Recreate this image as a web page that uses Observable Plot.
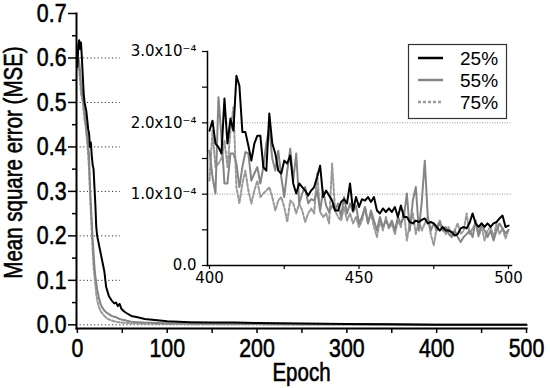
<!DOCTYPE html>
<html><head><meta charset="utf-8">
<script src="https://cdn.jsdelivr.net/npm/d3@7"></script>
<script src="https://cdn.jsdelivr.net/npm/@observablehq/plot@0.6"></script>
<style>
body{margin:0;background:#fff;}
#wrap{position:relative;width:550px;height:388px;overflow:hidden;background:#fff;}
#inset{position:absolute;left:120px;top:40px;}
svg{display:block;}
</style></head><body><div id="wrap"><div id="main"></div><div id="inset"></div></div>
<script>
// ---- series ----
const seriesNames = ["25%", "55%", "75%"];
const seriesColors = ["#000000", "#858585", "#999999"];
const seriesDash = [null, null, "3,2"];

// ---- main plot (epochs 0-399) ----
const mainEpochs = [0,1,2,3,4,5,6,7,8,9,10,11,12,13,14,15,16,17,18,19,20,21,22,24,26,28,30,32,35,38,41,43,45,47,49,52,55,60,67,75,89,100,125,150,175,200,250,300,350,399];
const main25 = [0.58,0.63,0.64,0.62,0.635,0.60,0.56,0.52,0.50,0.49,0.48,0.46,0.44,0.43,0.40,0.41,0.38,0.36,0.35,0.31,0.27,0.22,0.20,0.18,0.16,0.14,0.12,0.085,0.065,0.055,0.048,0.05,0.042,0.047,0.036,0.03,0.026,0.02,0.017,0.013,0.01,0.008,0.006,0.005,0.005,0.004,0.003,0.002,0.0012,0.0002];
const main55 = [0.61,0.60,0.59,0.57,0.54,0.53,0.51,0.50,0.48,0.46,0.44,0.42,0.40,0.38,0.31,0.27,0.235,0.19,0.16,0.13,0.11,0.095,0.08,0.06,0.045,0.038,0.032,0.028,0.024,0.02,0.018,0.017,0.015,0.013,0.012,0.011,0.009,0.007,0.006,0.005,0.004,0.0035,0.003,0.0025,0.002,0.002,0.0015,0.001,0.0007,0.00016];
const main75 = [0.60,0.58,0.57,0.55,0.52,0.51,0.50,0.48,0.46,0.45,0.43,0.41,0.38,0.35,0.30,0.25,0.21,0.17,0.13,0.11,0.09,0.07,0.055,0.04,0.03,0.025,0.02,0.016,0.012,0.01,0.008,0.007,0.006,0.0055,0.005,0.0045,0.004,0.0035,0.003,0.0025,0.002,0.002,0.0015,0.0012,0.001,0.001,0.0008,0.0006,0.0004,0.00012];

// ---- inset (epochs 400-500), values in units of 1e-4 ----
const insetEpochs = d3.range(400, 501);
const inset25 = [1.89,2.03,1.71,1.66,1.57,2.34,1.71,2.06,1.89,2.66, 2.52,1.87,1.87,1.68,1.47,1.71,1.82,1.82,1.38,1.33, 2.13,1.71,1.57,1.33,1.29,1.47,1.43,1.54,1.15,1.01, 1.15,1.10,1.05,0.98,1.05,1.10,1.24,1.40,0.96,1.05, 0.98,0.91,0.77,0.77,0.89,0.93,0.87,1.15,0.77,0.96, 0.82, 0.93,0.91,0.96,0.89,0.96,0.77,0.73,0.80,0.75,0.80, 0.75,0.82,0.68,0.84,0.68,0.68,0.61,0.59,0.63,0.61, 0.64,0.66,0.59,0.61,0.59,0.54,0.49,0.54,0.49,0.49, 0.47,0.42,0.44,0.52,0.54,0.52,0.60,0.73,0.59,0.54, 0.59,0.54,0.59,0.54,0.59,0.61,0.66,0.70,0.54,0.56];
const inset55 = [1.61,1.24,1.01,2.36,1.80,1.15,1.15,1.57,1.57,1.43, 1.10,1.38,1.59,1.57,1.19,1.29,1.38,1.15,1.38,1.71, 1.93,1.50,1.33,1.61,1.24,0.96,1.33,1.64,1.19,1.57, 0.87,1.01,1.10,0.87,0.93,0.91,1.05,0.77,1.05,0.84, 0.75,0.84,0.77,0.87,0.68,0.96,0.73,0.87,0.75,0.84, 0.59, 0.68,0.82,0.59,0.77,0.63,0.49,0.68,0.54,0.63,0.54, 0.63,0.49,0.68,0.59,0.68,1.01,0.49,0.91,1.10,0.49, 0.90,1.47,0.68,0.49,0.59,0.49,0.61,0.49,0.54,0.44, 0.40,0.49,0.40,0.33,0.40,0.44,0.49,0.40,0.63,0.44, 0.59,0.49,0.40,0.49,0.35,0.49,0.59,0.52,0.45,0.50];
const inset75 = [1.19,1.89,1.38,1.43,1.50,1.75,1.38,1.89,2.22,1.10, 0.87,1.15,1.33,1.05,0.87,1.05,1.19,0.96,1.01,1.05, 1.10,0.96,0.77,0.91,0.96,0.82,0.61,0.91,0.87,0.73, 0.87,0.77,0.61,0.73,0.80,0.73,1.29,0.75,0.68,0.73, 0.59,1.43,0.77,0.68,0.63,0.82,0.63,0.73,0.59,0.68, 0.54, 0.63,0.82,0.59,0.73,0.54,0.40,0.63,0.49,0.68,0.52, 0.59,0.44,0.63,0.54,0.77,0.35,0.59,0.73,0.44,0.63, 0.49,0.59,0.68,0.44,0.28,0.54,0.63,0.52,0.44,0.54, 0.40,0.49,0.59,0.44,0.49,0.73,0.44,0.52,0.59,0.40, 0.54,0.35,0.49,0.54,0.40,0.59,0.44,0.52,0.38,0.50];

// ---- ticks ----
const mainYTicks = [0,0.1,0.2,0.3,0.4,0.5,0.6,0.7];
const mainYMinor = [0.05,0.15,0.25,0.35,0.45,0.55,0.65];
const mainXTicks = [0,100,200,300,400,500];
const mainXMinor = [50,150,250,350,450];
const mainGrid = [0,0.1,0.2,0.3,0.4,0.5,0.6];
const insetYTicks = [0,1e-4,2e-4,3e-4];
const insetYLabels = ["0.0","1.0x10\u207B\u2074","2.0x10\u207B\u2074","3.0x10\u207B\u2074"];
const insetYMinor = [0.5e-4,1.5e-4,2.5e-4];
const insetXTicks = [400,450,500];
const insetXMinor = [425,475];
const insetGrid = [1e-4,2e-4];
const xLabel = "Epoch";
const yLabel = "Mean square error (MSE)";

const mainVals = [main25, main55, main75];
const insetVals = [inset25, inset55, inset75];

const mainData = seriesNames.map((s, k) => [
  ...mainEpochs.map((e, i) => ({epoch: e, mse: mainVals[k][i], s})),
  ...insetEpochs.map((e, i) => ({epoch: e, mse: insetVals[k][i] * 1e-4, s}))
]);
const insetData = seriesNames.map((s, k) => insetEpochs.map((e, i) => ({epoch: e, mse: insetVals[k][i] * 1e-4, s})));

const drawOrder = [2, 1, 0];
const lineMarks = (datasets) => drawOrder.map(k => Plot.line(datasets[k], {
  x: "epoch", y: "mse", stroke: seriesColors[k], strokeWidth: 2,
  strokeDasharray: seriesDash[k] || undefined, strokeLinejoin: "round"
}));

const sans = "'Liberation Sans',Arial,sans-serif";

const mainPlot = Plot.plot({
  width: 550, height: 388,
  marginLeft: 76, marginRight: 24, marginTop: 13, marginBottom: 60,
  style: {fontFamily: sans, fontSize: "26px", color: "#000", background: "transparent"},
  x: {domain: [-1, 500]},
  y: {domain: [-0.0083, 0.7]},
  marks: [
    Plot.ruleY(mainGrid, {stroke: "#333", strokeDasharray: "1.2,2.4", strokeWidth: 1}),
    ...lineMarks(mainData),
    Plot.axisY({ticks: mainYTicks, tickSize: 8, tickPadding: 2, tickFormat: d3.format(".1f"), label: null, strokeWidth: 1.5, fontSize: 26}),
    Plot.axisY({ticks: mainYMinor, tickSize: 4, tickFormat: () => "", label: null, strokeWidth: 1.5}),
    Plot.axisX({ticks: mainXTicks, tickSize: 5, tickPadding: 5, tickFormat: d3.format("d"), label: null, strokeWidth: 1.5, fontSize: 26}),
    Plot.axisX({ticks: mainXMinor, tickSize: 5, tickFormat: () => "", label: null, strokeWidth: 1.5}),
    Plot.frame({anchor: "left", strokeWidth: 2}),
    Plot.frame({anchor: "bottom", strokeWidth: 2}),
    Plot.text([xLabel], {frameAnchor: "bottom", textAnchor: "middle", lineAnchor: "bottom", dy: 52, fontSize: 25}),
    Plot.text([yLabel], {frameAnchor: "left", textAnchor: "middle", rotate: -90, lineAnchor: "top", dx: -72, dy: -8.5, fontSize: 25})
  ]
});
// condense the main plot's text horizontally (narrow sans look) and thicken slightly
d3.select(mainPlot).selectAll("text").each(function() {
  const t = d3.select(this);
  let tr = t.attr("transform");
  if (!tr) {
    const x = +(t.attr("x") || 0), y = +(t.attr("y") || 0);
    t.attr("x", null).attr("y", null);
    tr = `translate(${x},${y})`;
  }
  t.attr("transform", tr + " scale(0.82,1)")
   .attr("stroke", "#000").attr("stroke-width", 0.6).attr("fill", "#000");
});
document.getElementById("main").appendChild(mainPlot);

const insetPlot = Plot.plot({
  width: 404, height: 250,
  marginLeft: 87, marginRight: 13, marginTop: 11, marginBottom: 25,
  style: {fontFamily: "'DejaVu Sans',sans-serif", fontSize: "15px", color: "#000", background: "#fff"},
  x: {domain: [399.33, 501]},
  y: {domain: [0, 3e-4]},
  marks: [
    Plot.ruleY(insetGrid, {stroke: "#9a9a9a", strokeDasharray: "1,1.5", strokeWidth: 1}),
    ...lineMarks(insetData),
    Plot.axisY({ticks: insetYTicks, tickSize: 5, tickPadding: 6, tickFormat: d => insetYLabels[insetYTicks.indexOf(d)], label: null, strokeWidth: 1.2}),
    Plot.axisY({ticks: insetYMinor, tickSize: 5, tickFormat: () => "", label: null, strokeWidth: 1.2}),
    Plot.axisX({ticks: insetXTicks, tickSize: 4, tickPadding: 3, tickFormat: d3.format("d"), label: null, strokeWidth: 1.2}),
    Plot.axisX({ticks: insetXMinor, tickSize: 4, tickFormat: () => "", label: null, strokeWidth: 1.2}),
    Plot.frame({anchor: "left", strokeWidth: 1.5}),
    Plot.frame({anchor: "bottom", strokeWidth: 1.5})
  ]
});
document.getElementById("inset").appendChild(insetPlot);

// legend inside inset
const svg = d3.select(insetPlot);
const lg = svg.append("g").attr("class", "legend");
lg.append("rect").attr("x", 288.5).attr("y", 4.5).attr("width", 98).attr("height", 74)
  .attr("fill", "#fff").attr("stroke", "#333").attr("stroke-width", 1.2);
seriesNames.forEach((name, k) => {
  const cy = 18 + k * 22;
  lg.append("line").attr("x1", 298).attr("x2", 323).attr("y1", cy).attr("y2", cy)
    .attr("stroke", seriesColors[k]).attr("stroke-width", 2.5)
    .attr("stroke-dasharray", seriesDash[k]);
  lg.append("text").attr("x", 340).attr("y", cy).attr("dy", "0.36em")
    .attr("text-anchor", "start")
    .attr("font-family", sans).attr("font-size", 19)
    .attr("fill", "#000").text(name);
});
</script></body></html>
